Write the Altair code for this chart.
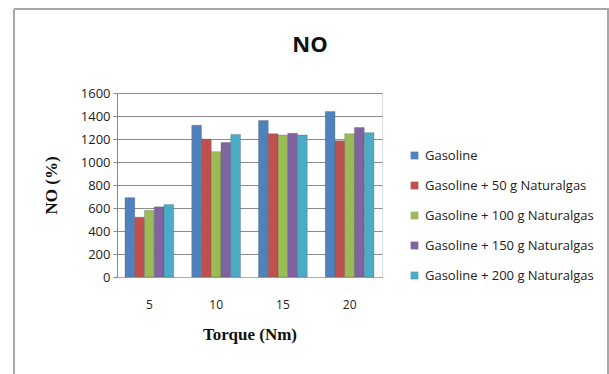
import altair as alt
import pandas as pd

torque = ["5", "10", "15", "20"]
series = ["Gasoline", "Gasoline + 50 g Naturalgas", "Gasoline + 100 g Naturalgas",
          "Gasoline + 150 g Naturalgas", "Gasoline + 200 g Naturalgas"]
colors = ["#4F81BD", "#C0504D", "#9BBB59", "#8064A2", "#4BACC6"]
gasoline = [690, 1320, 1360, 1440]
ng50 = [520, 1200, 1245, 1185]
ng100 = [580, 1090, 1235, 1245]
ng150 = [610, 1170, 1250, 1300]
ng200 = [630, 1240, 1235, 1255]
chart_title = "NO"

rows = []
for s, vals in zip(series, [gasoline, ng50, ng100, ng150, ng200]):
    for t, v in zip(torque, vals):
        rows.append({"Torque": t, "Series": s, "NO": v})
df = pd.DataFrame(rows)

bars = alt.Chart(df).mark_bar(stroke="#555555", strokeWidth=0.3).encode(
    x=alt.X("Torque:N", sort=torque, title="Torque (Nm)",
            scale=alt.Scale(paddingInner=0.27, paddingOuter=0.12),
            axis=alt.Axis(labelAngle=0, domain=True, domainColor="#aaaaaa", ticks=False,
                          labelPadding=22, labelFontSize=12, labelFont="Open Sans",
                          labelColor="#222222", titleFont="Liberation Serif",
                          titleFontSize=17, titleFontWeight="bold", titlePadding=16,
                          titleColor="#111111")),
    xOffset=alt.XOffset("Series:N", sort=series),
    y=alt.Y("NO:Q", title="NO  (%)",
            scale=alt.Scale(domain=[0, 1600]),
            axis=alt.Axis(values=list(range(0, 1601, 200)), format="d", grid=True,
                          gridColor="#8c8c8c", gridWidth=1, domainColor="#888888",
                          tickColor="#888888", tickSize=4, labelFontSize=13,
                          labelFont="Open Sans", labelColor="#222222",
                          labelPadding=3, titleFont="Liberation Serif", titleFontSize=17,
                          titleFontWeight="bold", titlePadding=20, titleColor="#111111")),
    color=alt.Color("Series:N", sort=series,
                    scale=alt.Scale(domain=series, range=colors),
                    legend=alt.Legend(title=None, orient="none", legendX=291, legendY=56,
                                      symbolType="square", symbolSize=60,
                                      symbolStrokeWidth=0, labelFontSize=13,
                                      labelFont="Open Sans", labelColor="#222222",
                                      labelOffset=4, rowPadding=16, labelLimit=300)),
)

title_df = pd.DataFrame({"t": [chart_title]})
title = alt.Chart(title_df).mark_text(
    font="Open Sans", fontSize=22, fontWeight="bold", color="#111111",
    align="center", baseline="middle"
).encode(text="t:N", x=alt.value(193), y=alt.value(-48))

border = alt.Chart(pd.DataFrame({"k": [0]})).mark_rule(color="#a8a8a8", strokeWidth=2)
left = border.encode(x=alt.value(-103), y=alt.value(-84), y2=alt.value(300))
top = border.encode(x=alt.value(-103), x2=alt.value(492), y=alt.value(-84))
right = border.encode(x=alt.value(491), y=alt.value(-84), y2=alt.value(300))

chart = alt.layer(bars, title, left, top, right).properties(
    width=265, height=184,
    padding={"left": 117, "top": 93, "right": 227, "bottom": 97},
    autosize=alt.AutoSizeParams(type="none"),
).configure_view(stroke=None).configure(background="white")

chart.save("out.html", embed_options={"renderer": "svg", "actions": False})
